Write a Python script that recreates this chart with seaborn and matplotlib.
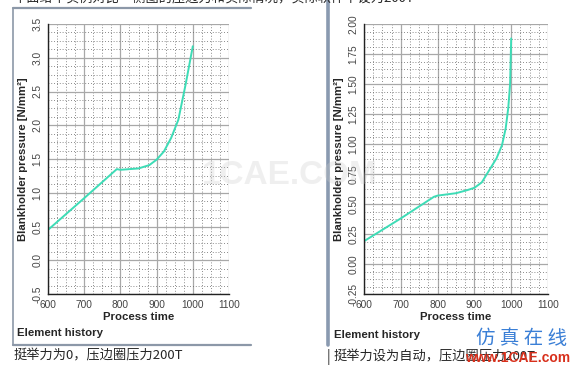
import numpy as np
import pandas as pd
import matplotlib
matplotlib.use('Agg')
import matplotlib.pyplot as plt
from matplotlib.ticker import MultipleLocator, FormatStrFormatter
import seaborn as sns

# left chart: 挺举力为0
t_left = [600, 700, 790, 800, 850, 880, 900, 920, 940, 960, 980, 1000]
p_left = [0.45, 0.92, 1.35, 1.34, 1.36, 1.41, 1.49, 1.61, 1.81, 2.08, 2.60, 3.17]

# right chart: 挺举力设为自动
t_right = [600, 700, 790, 800, 850, 880, 900, 920, 940, 960, 975, 985, 992, 997, 1000]
p_right = [0.19, 0.38, 0.56, 0.57, 0.59, 0.615, 0.635, 0.68, 0.78, 0.88, 0.99, 1.13, 1.30, 1.50, 1.88]

captions = ['挺举力为0，压边圈压力200T', '挺举力设为自动，压边圈压力200T']
top_text = '下面给个实例对比一侧图的压边力和实际情况，实际软件中设为200T'

sns.set_theme(style='white')
plt.rcParams['font.family'] = ['Liberation Sans', 'Noto Sans CJK SC', 'DejaVu Sans']

W, H = 581, 366
fig = plt.figure(figsize=(W / 100, H / 100), dpi=100)
fig.patch.set_facecolor('white')

line_color = '#3ddcb6'


def px(x, y):
    return x / W, 1 - y / H


def setup(ax, ymin, ymax, ymaj, ymin_step, fmt):
    ax.set_xlim(600, 1100)
    ax.set_ylim(ymin, ymax)
    ax.xaxis.set_major_locator(MultipleLocator(100))
    ax.xaxis.set_minor_locator(MultipleLocator(25))
    ax.yaxis.set_major_locator(MultipleLocator(ymaj))
    ax.yaxis.set_minor_locator(MultipleLocator(ymin_step))
    ax.yaxis.set_major_formatter(FormatStrFormatter(fmt))
    ax.grid(which='major', color='#a8a8a8', linewidth=0.9, linestyle='-')
    ax.grid(which='minor', color='#666666', linewidth=0.6, linestyle=(0, (1, 2.4)))
    ax.set_axisbelow(True)
    for s in ['top', 'right']:
        ax.spines[s].set_visible(False)
    for s in ['left', 'bottom']:
        ax.spines[s].set_color('#222222')
        ax.spines[s].set_linewidth(1.0)
    ax.tick_params(axis='both', which='major', direction='out', length=3, width=0.8,
                   color='#222222', labelsize=7.3, labelcolor='#444444', pad=1)
    ax.tick_params(axis='both', which='minor', direction='out', length=2, width=0.6,
                   color='#222222')
    ax.tick_params(axis='y', labelrotation=90)
    for lab in ax.get_yticklabels():
        lab.set_va('center')
    ax.set_xlabel('Process time', fontsize=8.2, fontweight='bold', labelpad=2)
    ax.set_ylabel('Blankholder pressure [N/mm²]', fontsize=8.2, fontweight='bold', labelpad=3)


# left axes
axL = fig.add_axes([48 / W, 1 - 294 / H, 181 / W, 270 / H])
dfL = pd.DataFrame({'t': t_left, 'p': p_left})
sns.lineplot(data=dfL, x='t', y='p', ax=axL, color=line_color, linewidth=1.4)
setup(axL, -0.5, 3.5, 0.5, 0.125, '%.1f')

# right axes
axR = fig.add_axes([364 / W, 1 - 294 / H, 184 / W, 270 / H])
dfR = pd.DataFrame({'t': t_right, 'p': p_right})
sns.lineplot(data=dfR, x='t', y='p', ax=axR, color=line_color, linewidth=1.4)
setup(axR, -0.25, 2.0, 0.25, 0.0625, '%.2f')

# panel frames
frame_c = '#8c98a8'
fig.add_artist(plt.Line2D([13 / W, 251 / W], [1 - 8 / H, 1 - 8 / H], color=frame_c, lw=1.6))
fig.add_artist(plt.Line2D([13 / W, 13 / W], [1 - 8 / H, 1 - 345 / H], color=frame_c, lw=1.2))
fig.add_artist(plt.Line2D([13 / W, 251 / W], [1 - 345 / H, 1 - 345 / H], color=frame_c, lw=1.6))
fig.add_artist(plt.Line2D([328 / W, 328 / W], [1.0, 1 - 345 / H], color='#8a9ab0', lw=2.6))

# panel footers
fig.text(*px(17, 333), 'Element history', fontsize=8.2, fontweight='bold', va='center', ha='left')
fig.text(*px(334, 335), 'Element history', fontsize=8.2, fontweight='bold', va='center', ha='left')

cjk = ['Noto Sans CJK SC', 'DejaVu Sans']
fig.text(*px(13, 356), captions[0], fontsize=9.5, family=cjk, va='center', ha='left')
fig.text(*px(327, 357), '|', fontsize=10, family=cjk, va='center', ha='left')
fig.text(*px(333, 357), captions[1], fontsize=9.5, family=cjk, va='center', ha='left')

# clipped line of text at the very top
fig.text(*px(13, -1), top_text, fontsize=9.5, family=cjk, va='center', ha='left')

# watermarks
fig.text(*px(290, 175), '1CAE.COM', fontsize=24, fontweight='bold', color='#cccccc',
         alpha=0.3, va='center', ha='center')
fig.text(*px(522, 338), '仿 真 在 线', fontsize=14, family=cjk, color='#3a7fd6',
         va='center', ha='center')
fig.text(*px(518, 358), 'www.1CAE.com', fontsize=10, fontweight='bold', color='#d8301c',
         va='center', ha='center')

fig.savefig('out.png', dpi=100, facecolor='white')
